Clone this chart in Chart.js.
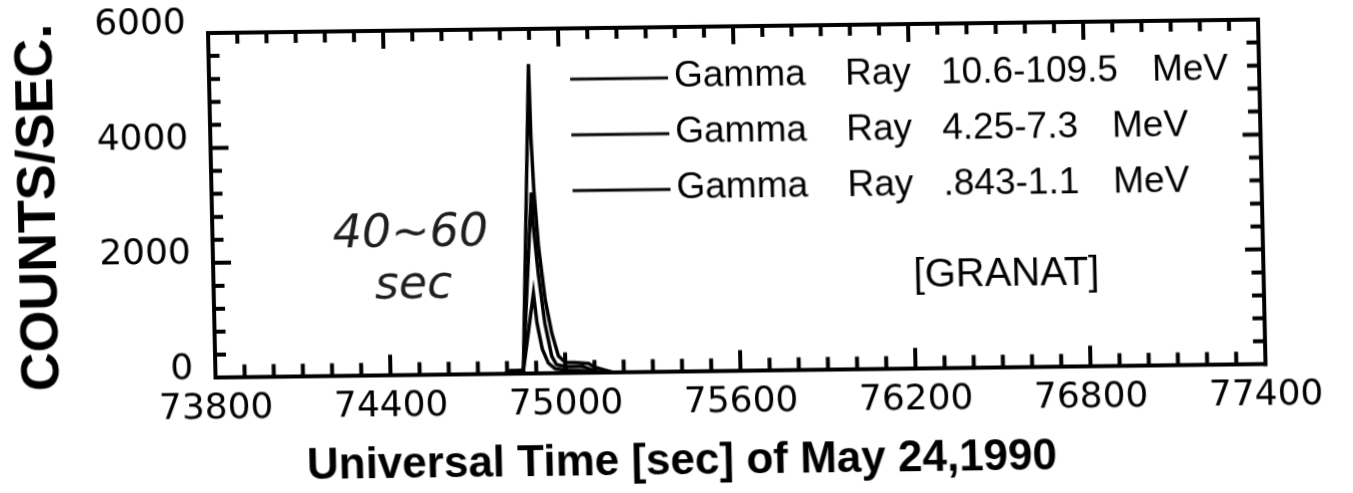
<!DOCTYPE html>
<html>
<head>
<meta charset="utf-8">
<title>GRANAT gamma-ray counts, 24 May 1990</title>
<script src="https://cdn.jsdelivr.net/npm/chart.js@4.4.1/dist/chart.umd.min.js"></script>
<style>
  html, body { margin: 0; padding: 0; background: #fff; }
  #wrap { width: 1353px; height: 493px; overflow: hidden; position: relative; background: #fff; }
  /* the scanned figure sits slightly askew on the page */
  #c { position: absolute; left: 0; top: 0; transform-origin: 0 0;
       transform: matrix(1, -0.01286, 0.0217, 0.9957, -4.59, 8.84); }
</style>
</head>
<body>
<div id="wrap"><canvas id="c" width="1353" height="493"></canvas></div>
<script>
// Axis ticks
const xTicks = [73800, 74400, 75000, 75600, 76200, 76800, 77400];
const yTicks = [0, 2000, 4000, 6000];
const xMinorStep = 100, xMajorStep = 600;
const yMinorStep = 400, yMajorStep = 2000;

// Energy bands, in key order (MeV)
const bands = ['10.6-109.5', '4.25-7.3', '.843-1.1'];

// Count rates (counts/s) against UT seconds, one pair of arrays per band
const tBand1 = [74790, 74812, 74856, 74896, 74906, 74922, 74942, 74965, 75010, 75060, 75100, 75200];
const vBand1 = [0, 50, 60, 1400, 880, 430, 180, 80, 55, 40, 0, 0];

const tBand2 = [74790, 74812, 74856, 74896, 74901, 74914, 74933, 74954, 74970, 75000, 75060, 75110, 75200];
const vBand2 = [0, 55, 65, 3150, 2550, 1740, 870, 300, 150, 120, 110, 20, 0];

const tBand3 = [74790, 74812, 74838, 74856, 74896, 74899, 74905, 74917, 74936, 74956, 74977, 75000, 75030, 75080, 75100, 75160, 75200];
const vBand3 = [0, 55, 60, 70, 5390, 4100, 3200, 2200, 1280, 700, 300, 190, 185, 165, 100, 10, 0];

// Notes written on the plot
const noteLines = ['40~60', 'sec'];
const instrument = '[GRANAT]';

const pairs = (t, v) => t.map((x, i) => ({ x, y: v[i] }));

const SANS = '"Liberation Sans", Arial, Helvetica, sans-serif';
const TICK_FONT = { family: '"DejaVu Sans", sans-serif', size: 36, lineHeight: 1.2 };

// Closes the frame and draws inward-pointing ticks on all four sides
const frameTicks = {
  id: 'frameTicks',
  afterDraw(chart) {
    const ctx = chart.ctx;
    const a = chart.chartArea;
    const xs = chart.scales.x;
    const ys = chart.scales.y;
    ctx.save();
    ctx.strokeStyle = '#000';
    ctx.lineWidth = 4;
    ctx.lineCap = 'square';
    ctx.beginPath();
    ctx.moveTo(a.left, a.top);
    ctx.lineTo(a.right, a.top);
    ctx.lineTo(a.right, a.bottom);
    ctx.stroke();
    ctx.restore();

    ctx.save();
    ctx.strokeStyle = '#000';
    ctx.lineWidth = 4;
    ctx.lineCap = 'butt';
    const x0 = xTicks[0], x1 = xTicks[xTicks.length - 1];
    const nx = Math.round((x1 - x0) / xMinorStep);
    for (let i = 1; i < nx; i++) {
      const v = x0 + i * xMinorStep;
      const px = xs.getPixelForValue(v);
      const major = (v - x0) % xMajorStep === 0;
      ctx.beginPath();
      ctx.moveTo(px, a.bottom);
      ctx.lineTo(px, a.bottom - (major ? 21 : 13));
      ctx.moveTo(px, a.top);
      ctx.lineTo(px, a.top + (major ? 18 : 11));
      ctx.stroke();
    }
    const y0 = yTicks[0], y1 = yTicks[yTicks.length - 1];
    const ny = Math.round((y1 - y0) / yMinorStep);
    for (let i = 1; i < ny; i++) {
      const v = y0 + i * yMinorStep;
      const py = ys.getPixelForValue(v);
      const major = (v - y0) % yMajorStep === 0;
      ctx.beginPath();
      ctx.moveTo(a.left, py);
      ctx.lineTo(a.left + (major ? 18 : 11), py);
      ctx.moveTo(a.right, py);
      ctx.lineTo(a.right - (major ? 18 : 12), py);
      ctx.stroke();
    }
    ctx.restore();
  }
};

// Key in the upper right, instrument name and the hand-written note
const keyAndNotes = {
  id: 'keyAndNotes',
  afterDraw(chart) {
    const { ctx, chartArea: a } = chart;
    ctx.save();
    ctx.fillStyle = '#000';
    ctx.strokeStyle = '#000';
    ctx.textBaseline = 'middle';
    ctx.textAlign = 'left';
    ctx.font = '37px ' + SANS;
    const rows = [50, 106, 162];
    bands.forEach((b, i) => {
      const yy = a.top + rows[i];
      ctx.lineWidth = 3;
      ctx.beginPath();
      ctx.moveTo(a.left + 361, yy + 1);
      ctx.lineTo(a.left + 459, yy + 1);
      ctx.stroke();
      ctx.fillText('Gamma', a.left + 465, yy);
      ctx.fillText('Ray', a.left + 636, yy);
      const bx = a.left + 732;
      ctx.fillText(b, bx, yy);
      ctx.fillText('MeV', bx + ctx.measureText(b).width + 34, yy);
    });

    ctx.font = '40px ' + SANS;
    ctx.textAlign = 'center';
    ctx.fillText(instrument, a.left + 793, a.top + 253);

    ctx.fillStyle = '#1e1e1e';
    ctx.font = 'italic 46px "DejaVu Sans", sans-serif';
    ctx.fillText(noteLines[0], a.left + 198, a.top + 205);
    ctx.fillText(noteLines[1], a.left + 200, a.top + 257);
    ctx.restore();
  }
};

const lineStyle = { borderColor: '#000', borderWidth: 3.5, pointRadius: 0, tension: 0, fill: false };

new Chart(document.getElementById('c'), {
  type: 'line',
  data: {
    datasets: [
      { label: 'Gamma Ray ' + bands[0] + ' MeV', data: pairs(tBand1, vBand1), ...lineStyle },
      { label: 'Gamma Ray ' + bands[1] + ' MeV', data: pairs(tBand2, vBand2), ...lineStyle },
      { label: 'Gamma Ray ' + bands[2] + ' MeV', data: pairs(tBand3, vBand3), ...lineStyle }
    ]
  },
  options: {
    responsive: false,
    animation: false,
    devicePixelRatio: 1,
    layout: { padding: { left: 0, right: 0, top: 27, bottom: 0 } },
    plugins: {
      legend: { display: false },
      tooltip: { enabled: false },
      title: {
        display: true,
        position: 'bottom',
        text: 'Universal Time [sec] of May 24,1990',
        color: '#000',
        font: { family: SANS, size: 44, weight: 'bold', lineHeight: 1.2 },
        padding: { top: 0, bottom: 3 }
      }
    },
    scales: {
      x: {
        type: 'linear',
        min: xTicks[0],
        max: xTicks[xTicks.length - 1],
        afterBuildTicks: s => { s.ticks = xTicks.map(v => ({ value: v })); },
        afterFit: s => { s.height = 64; s.paddingLeft = 0; s.paddingRight = 0; },
        grid: { display: false, drawTicks: false },
        border: { display: true, color: '#000', width: 4 },
        ticks: {
          color: '#000', font: TICK_FONT, padding: 10,
          maxRotation: 0, autoSkip: false,
          callback: v => String(v)
        }
      },
      y: {
        type: 'linear',
        min: yTicks[0],
        max: yTicks[yTicks.length - 1],
        afterBuildTicks: s => { s.ticks = yTicks.map(v => ({ value: v })); },
        afterFit: s => { s.width = 212; s.paddingTop = 0; s.paddingBottom = 0; },
        grid: { display: false, drawTicks: false },
        border: { display: true, color: '#000', width: 4 },
        ticks: {
          color: '#000', font: TICK_FONT, padding: 22, labelOffset: -9,
          autoSkip: false,
          callback: v => String(v)
        },
        title: {
          display: true,
          text: 'COUNTS/SEC.',
          color: '#000',
          font: { family: SANS, size: 54, weight: 'bold', lineHeight: 1.2 },
          padding: { top: 8, bottom: 0 }
        }
      },
      // empty right-hand margin beside the frame
      yRight: {
        type: 'linear',
        position: 'right',
        min: yTicks[0],
        max: yTicks[yTicks.length - 1],
        afterFit: s => { s.width = 91; s.paddingTop = 0; s.paddingBottom = 0; },
        grid: { display: false, drawTicks: false },
        border: { display: false },
        ticks: { display: false }
      }
    }
  },
  plugins: [frameTicks, keyAndNotes]
});
</script>
</body>
</html>
